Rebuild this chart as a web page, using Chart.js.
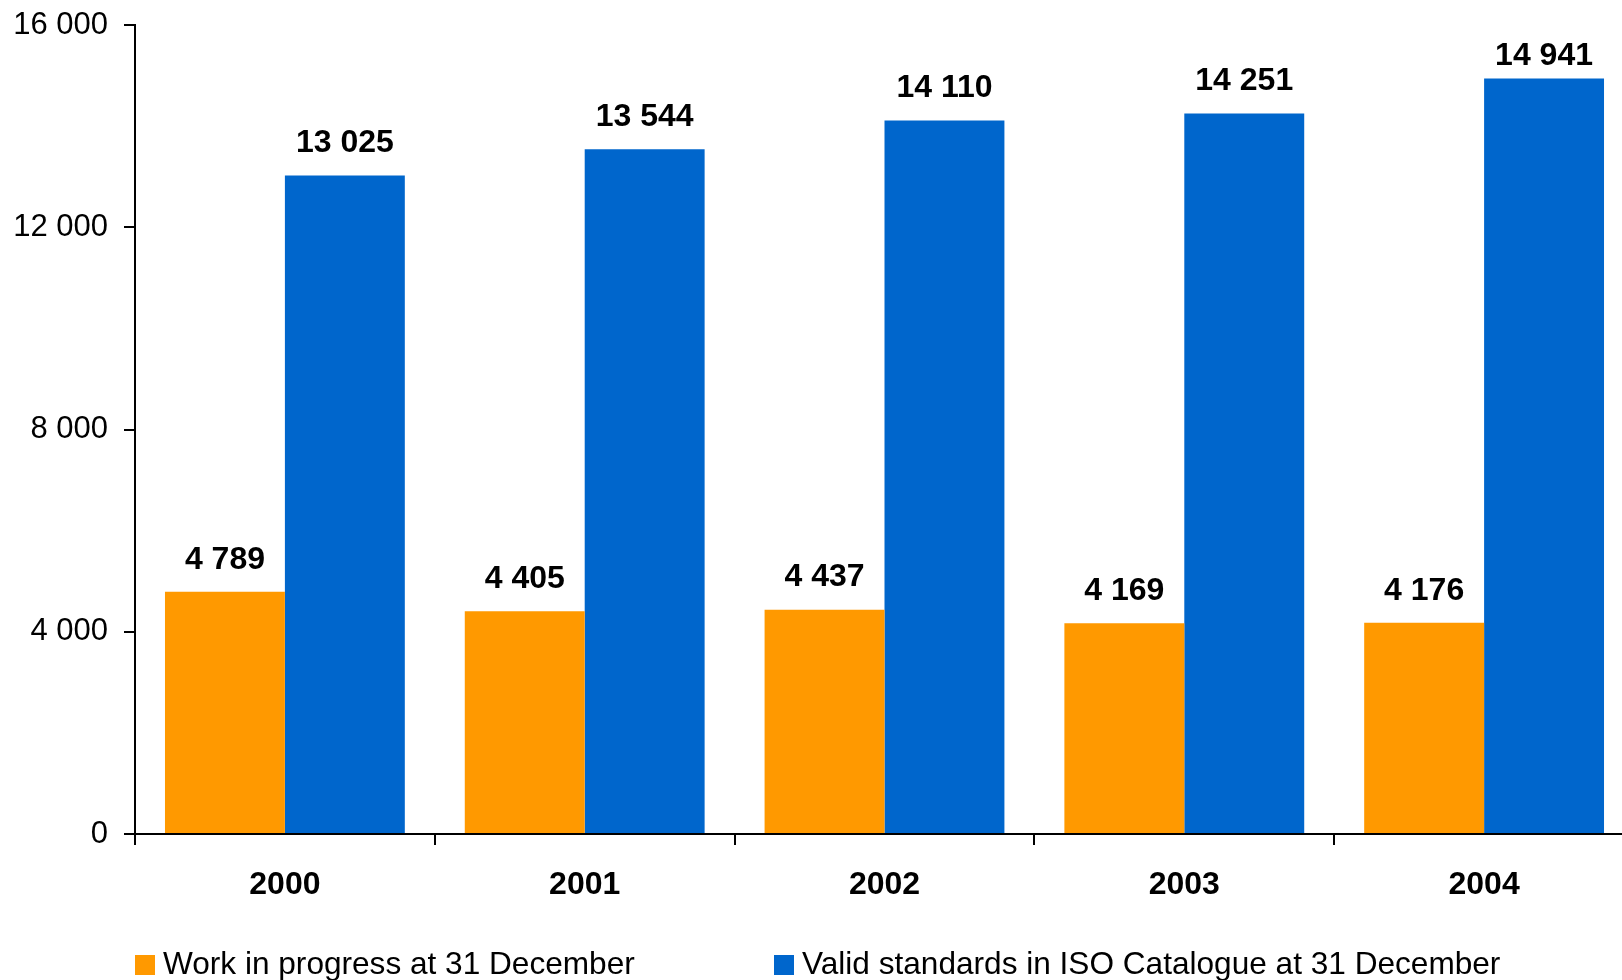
<!DOCTYPE html>
<html>
<head>
<meta charset="utf-8">
<script src="https://cdn.jsdelivr.net/npm/chart.js@4"></script>
<style>
	html, body {
		margin: 0;
		padding: 0;
		width: 1622px;
		height: 980px;
		overflow: hidden;
		background: #fff;
		font-family: "Liberation Sans", Arial, sans-serif;
	}
	#wrap {
		position: absolute;
		left: 0;
		top: 0;
	}
	.legend-item {
		position: absolute;
		top: 947px;
		height: 32px;
		line-height: 32px;
		font-size: 31.6px;
		color: #000;
		white-space: nowrap;
		padding-left: 28px;
	}
	.legend-item span {
		position: absolute;
		left: 0;
		top: 8px;
		width: 20px;
		height: 20px;
	}
</style>
</head>
<body>
<div id="wrap">
	<canvas id="c" width="1640" height="980"></canvas>
</div>
<div id="legend"></div>

<script>
const years = ["2000", "2001", "2002", "2003", "2004"];
const workInProgress = [4789, 4405, 4437, 4169, 4176];
const validStandards = [13025, 13544, 14110, 14251, 14941];
const seriesNames = [
	"Work in progress at 31 December",
	"Valid standards in ISO Catalogue at 31 December"
];
const seriesColors = ["#FF9900", "#0066CC"];
const yTicks = [0, 4000, 8000, 12000, 16000];

function formatNumber(value) {
	return String(value).replace(/\B(?=(\d{3})+(?!\d))/g, " ");
}

const valueLabels = {
	id: "valueLabels",
	afterDatasetsDraw(chart) {
		const ctx = chart.ctx;
		ctx.save();
		ctx.font = 'bold 32px "Liberation Sans", Arial, sans-serif';
		ctx.fillStyle = "#000";
		ctx.textAlign = "center";
		ctx.textBaseline = "middle";
		chart.data.datasets.forEach((ds, i) => {
			chart.getDatasetMeta(i).data.forEach((bar, j) => {
				const y = Math.max(bar.y - 32, chart.chartArea.top + 31);
				ctx.fillText(formatNumber(ds.data[j]), bar.x, y);
			});
		});
		ctx.restore();
	}
};

Chart.defaults.font.family = '"Liberation Sans", Arial, sans-serif';
Chart.defaults.color = "#000";

const chart = new Chart(document.getElementById("c"), {
	type: "bar",
	data: {
		labels: years,
		datasets: [
			{ label: seriesNames[0], data: workInProgress, backgroundColor: seriesColors[0] },
			{ label: seriesNames[1], data: validStandards, backgroundColor: seriesColors[1] }
		]
	},
	options: {
		responsive: false,
		animation: false,
		devicePixelRatio: 1,
		categoryPercentage: 0.8,
		barPercentage: 1.0,
		layout: {
			padding: { top: 25, right: 6, left: 0, bottom: 0 }
		},
		scales: {
			x: {
				border: { display: true, color: "#000", width: 2 },
				grid: {
					drawOnChartArea: false,
					drawTicks: true,
					tickLength: 11,
					color: "#000",
					lineWidth: 2
				},
				ticks: {
					font: { size: 32, weight: "bold" },
					padding: 21
				},
				afterFit: scale => {
					scale.height = 146;
					scale.paddingLeft = 0;
					scale.paddingRight = 0;
				}
			},
			y: {
				min: 0,
				max: 16000,
				border: { display: true, color: "#000", width: 2 },
				grid: {
					drawOnChartArea: false,
					drawTicks: true,
					tickLength: 11,
					color: "#000",
					lineWidth: 2
				},
				afterBuildTicks: scale => {
					scale.ticks = yTicks.map(v => ({ value: v }));
				},
				ticks: {
					font: { size: 31 },
					padding: 16,
					callback: value => formatNumber(value)
				},
				afterFit: scale => {
					scale.width = 135;
					scale.paddingTop = 0;
					scale.paddingBottom = 0;
				}
			}
		},
		plugins: {
			legend: { display: false },
			tooltip: { enabled: false }
		}
	},
	plugins: [valueLabels]
});

// legend below the plot, built from the same series
const legendLeft = [135, 774];
const legend = document.getElementById("legend");
seriesNames.forEach((name, i) => {
	const item = document.createElement("div");
	item.className = "legend-item";
	item.style.left = legendLeft[i] + "px";
	item.innerHTML = `<span style="background:${seriesColors[i]}"></span>${name}`;
	legend.appendChild(item);
});
</script>
</body>
</html>
